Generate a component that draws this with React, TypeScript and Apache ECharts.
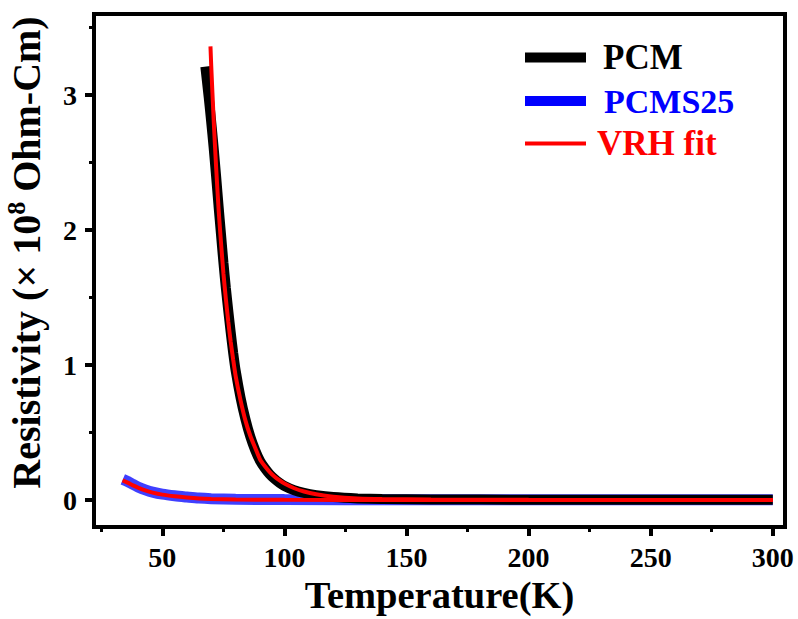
import React, { useEffect, useRef } from "react";
import * as echarts from "echarts";

// PCM measured resistivity (x 10^8 Ohm-Cm) vs temperature (K)
const pcmT = [67.6, 69, 70, 71, 72, 73, 74, 75, 76, 77, 78, 79, 80, 82, 84, 86, 88, 90, 92, 94, 96, 98, 100, 104, 108, 113, 120, 130, 140, 160, 200, 250, 300];
const pcmRho = [3.21, 2.98, 2.8, 2.61, 2.4, 2.18, 1.97, 1.76, 1.57, 1.4, 1.24, 1.09, 0.96, 0.76, 0.6, 0.47, 0.37, 0.29, 0.235, 0.19, 0.155, 0.127, 0.104, 0.072, 0.052, 0.036, 0.022, 0.012, 0.007, 0.004, 0.002, 0.001, 0.001];

// PCMS25 measured resistivity
const pcms25T = [33.8, 36, 38, 40, 43, 46, 50, 55, 60, 65, 70, 80, 100, 150, 200, 250, 300];
const pcms25Rho = [0.153, 0.135, 0.115, 0.097, 0.075, 0.058, 0.043, 0.031, 0.022, 0.014, 0.01, 0.006, 0.003, 0.002, 0.001, 0.001, 0.001];

// VRH fit for PCM
const fitPcmT = [69.7, 70, 71, 72, 73, 74, 75, 76, 77, 78, 79, 80, 82, 84, 86, 88, 90, 92, 94, 96, 98, 100, 104, 108, 113, 120, 130, 140, 160, 200, 250, 300];
const fitPcmRho = [3.36, 3.22, 2.82, 2.47, 2.16, 1.91, 1.68, 1.49, 1.32, 1.17, 1.04, 0.92, 0.74, 0.59, 0.476, 0.387, 0.3, 0.25, 0.207, 0.172, 0.145, 0.122, 0.087, 0.063, 0.043, 0.025, 0.012, 0.007, 0.003, 0.001, 0.0005, 0.0003];

// VRH fit for PCMS25
const fitPcms25T = [33.7, 36, 38, 40, 43, 46, 50, 55, 60, 65, 70, 80, 100, 150, 200, 300];
const fitPcms25Rho = [0.145, 0.127, 0.108, 0.092, 0.071, 0.055, 0.04, 0.028, 0.019, 0.012, 0.008, 0.004, 0.001, 0.0, 0.0, 0.0];

const xTicks = [50, 100, 150, 200, 250, 300];
const xMinorTicks = [25, 75, 125, 175, 225, 275];
const yTicks = [0, 1, 2, 3];
const yMinorTicks = [0.5, 1.5, 2.5, 3.5];

const zip = (a: number[], b: number[]) => a.map((v, i) => [v, b[i]]);

export default function App() {
  const ref = useRef<HTMLDivElement>(null);
  useEffect(() => {
    document.body.style.margin = "0";
    document.body.style.overflow = "hidden";
    const chart = echarts.init(ref.current!, null, { renderer: "svg" });
    const font = "'Liberation Serif', 'Times New Roman', serif";
    const X_MIN = 22, X_MAX = 305, Y_MIN = -0.2, Y_MAX = 3.6;
    const legendBase = {
      orient: "vertical",
      icon: "rect",
      itemWidth: 61,
      padding: 0,
      selectedMode: false,
      left: 525,
    };
    chart.setOption({
      animation: false,
      grid: {
        left: 94,
        right: 13,
        top: 14,
        bottom: 92,
        containLabel: false,
        outerBoundsMode: "none",
        show: true,
        borderColor: "#000",
        borderWidth: 4,
        backgroundColor: "transparent",
      },
      legend: [
        {
          ...legendBase,
          top: 40,
          itemHeight: 10,
          data: [{ name: "PCM" }],
          textStyle: { fontFamily: font, fontWeight: "bold", fontSize: 35, lineHeight: 34, color: "#000", padding: [0, 0, 0, 12] },
        },
        {
          ...legendBase,
          top: 84,
          itemHeight: 10,
          data: [{ name: "PCMS25", itemStyle: { color: "#0000ff" } }],
          textStyle: { fontFamily: font, fontWeight: "bold", fontSize: 34, lineHeight: 34, color: "#0000ff", padding: [0, 0, 0, 13] },
        },
        {
          ...legendBase,
          top: 126,
          itemHeight: 4,
          data: [{ name: "VRH fit" }],
          textStyle: { fontFamily: font, fontWeight: "bold", fontSize: 35, lineHeight: 34, color: "#ff0000", padding: [0, 0, 0, 6] },
        },
      ],
      xAxis: [
        {
          type: "value",
          min: X_MIN,
          max: X_MAX,
          position: "bottom",
          name: "Temperature(K)",
          nameLocation: "middle",
          nameGap: 51,
          nameTextStyle: { fontFamily: font, fontWeight: "bold", fontSize: 38.5, lineHeight: 34, color: "#000" },
          axisLine: { show: true, onZero: false, lineStyle: { color: "#000", width: 4 } },
          axisTick: { show: true, customValues: xTicks, length: 9, lineStyle: { color: "#000", width: 4 } },
          axisLabel: { customValues: xTicks, margin: 16, fontFamily: font, fontWeight: "bold", fontSize: 28, color: "#000" },
          splitLine: { show: false },
        },
        {
          type: "value",
          min: X_MIN,
          max: X_MAX,
          position: "bottom",
          axisLine: { show: false, onZero: false },
          axisTick: { show: true, customValues: xMinorTicks, length: 5, lineStyle: { color: "#000", width: 3 } },
          axisLabel: { show: false },
          splitLine: { show: false },
        },
      ],
      yAxis: [
        {
          type: "value",
          min: Y_MIN,
          max: Y_MAX,
          position: "left",
          name: "{a|Resistivity (× 10}{s|8}{a| Ohm-Cm)}",
          nameLocation: "middle",
          nameGap: 45,
          nameTextStyle: {
            padding: [0, 0, 0, 36],
            rich: {
              a: { fontFamily: font, fontWeight: "bold", fontSize: 40, lineHeight: 46, color: "#000" },
              s: { fontFamily: font, fontWeight: "bold", fontSize: 26, lineHeight: 30, verticalAlign: "top", color: "#000" },
            },
          },
          axisLine: { show: true, onZero: false, lineStyle: { color: "#000", width: 4 } },
          axisTick: { show: true, customValues: yTicks, length: 9, lineStyle: { color: "#000", width: 4 } },
          axisLabel: { customValues: yTicks, margin: 17, fontFamily: font, fontWeight: "bold", fontSize: 28, color: "#000" },
          splitLine: { show: false },
        },
        {
          type: "value",
          min: Y_MIN,
          max: Y_MAX,
          position: "left",
          axisLine: { show: false, onZero: false },
          axisTick: { show: true, customValues: yMinorTicks, length: 5, lineStyle: { color: "#000", width: 3 } },
          axisLabel: { show: false },
          splitLine: { show: false },
        },
      ],
      series: [
        {
          name: "PCMS25",
          type: "line",
          data: zip(pcms25T, pcms25Rho),
          showSymbol: false,
          smooth: 0.3,
          itemStyle: { color: "#2a2aff" },
          lineStyle: { color: "#2a2aff", width: 11, opacity: 0.9 },
          z: 2,
        },
        {
          name: "PCM",
          type: "line",
          data: zip(pcmT, pcmRho),
          showSymbol: false,
          smooth: 0.2,
          itemStyle: { color: "#000" },
          lineStyle: { color: "#000", width: 10 },
          z: 3,
        },
        {
          name: "VRH fit",
          type: "line",
          data: zip(fitPcms25T, fitPcms25Rho),
          showSymbol: false,
          smooth: 0.3,
          itemStyle: { color: "#ff0000" },
          lineStyle: { color: "#ff0000", width: 4 },
          z: 4,
        },
        {
          name: "VRH fit",
          type: "line",
          data: zip(fitPcmT, fitPcmRho),
          showSymbol: false,
          smooth: 0.2,
          itemStyle: { color: "#ff0000" },
          lineStyle: { color: "#ff0000", width: 4 },
          z: 4,
        },
      ],
    });
    return () => chart.dispose();
  }, []);
  return <div ref={ref} style={{ width: 798, height: 619, overflow: "hidden" }} />;
}
